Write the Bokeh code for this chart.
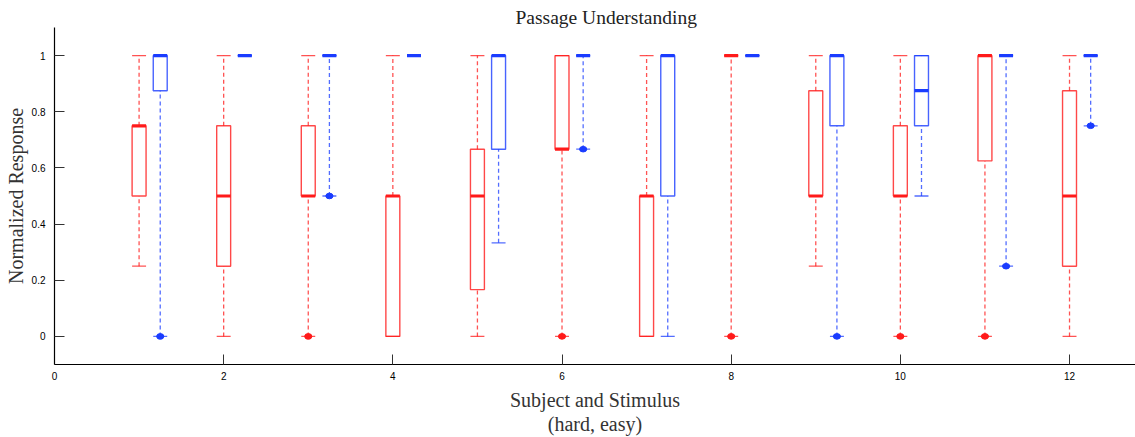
import math
from bokeh.plotting import figure
from bokeh.models import ColumnDataSource, Range1d, FixedTicker
from bokeh.embed import file_html
from bokeh.resources import INLINE

# ---- data ----
subjects = [1, 2, 3, 4, 5, 6, 7, 8, 9, 10, 11, 12]

hard_lo  = [0.25, 0, 0, 0, 0, 0, 0, 0, 0.25, 0, 0, 0]
hard_q1  = [0.5, 0.25, 0.5, 0, 0.1667, 0.6667, 0, 1, 0.5, 0.5, 0.625, 0.25]
hard_med = [0.75, 0.5, 0.5, 0.5, 0.5, 0.6667, 0.5, 1, 0.5, 0.5, 1, 0.5]
hard_q3  = [0.75, 0.75, 0.75, 0.5, 0.6667, 1, 0.5, 1, 0.875, 0.75, 1, 0.875]
hard_hi  = [1, 1, 1, 1, 1, 1, 1, 1, 1, 1, 1, 1]
hard_out = [None, None, 0, None, None, 0, None, 0, None, 0, 0, None]

easy_lo  = [0, 1, 0.5, 1, 0.3333, 0.6667, 0, 1, 0, 0.5, 0.25, 0.75]
easy_q1  = [0.875, 1, 1, 1, 0.6667, 1, 0.5, 1, 0.75, 0.75, 1, 1]
easy_med = [1, 1, 1, 1, 1, 1, 1, 1, 1, 0.875, 1, 1]
easy_q3  = [1, 1, 1, 1, 1, 1, 1, 1, 1, 1, 1, 1]
easy_hi  = [1, 1, 1, 1, 1, 1, 1, 1, 1, 1, 1, 1]
easy_out = [0, None, 0.5, None, None, 0.6667, None, None, 0, None, 0.25, 0.75]

x_ticks = [0, 2, 4, 6, 8, 10, 12]
y_ticks = [0, 0.2, 0.4, 0.6, 0.8, 1]
y_tick_labels = ["0", "0.2", "0.4", "0.6", "0.8", "1"]

RED = "#ff1a1a"
BLUE = "#1a3cff"
BOX_W = 0.165
OFFSET_EASY = 0.25

p = figure(width=1135, height=437, output_backend="svg", toolbar_location=None,
           x_range=Range1d(0, 12.78), y_range=Range1d(-0.1, 1.1),
           min_border_left=54, min_border_right=0, min_border_top=27, min_border_bottom=73,
           title="Passage Understanding")

p.title.align = "left"
p.title.offset = 461
p.title.standoff = 0
p.title.text_font = "Liberation Serif"
p.title.text_font_size = "19.5px"
p.title.text_font_style = "normal"
p.title.text_color = "#222222"

p.grid.visible = False
p.outline_line_color = None
p.background_fill_color = "white"
p.border_fill_color = "white"


def draw(xs, lo, q1, med, q3, hi, out, color):
    left = [x - BOX_W / 2 for x in xs]
    right = [x + BOX_W / 2 for x in xs]
    src = ColumnDataSource(dict(x=xs, left=left, right=right, lo=lo, q1=q1,
                                med=med, q3=q3, hi=hi))
    # whiskers
    p.segment(x0="x", y0="lo", x1="x", y1="q1", source=src, line_color=color,
              line_alpha=0.75, line_width=1.3, line_dash="4 3")
    p.segment(x0="x", y0="q3", x1="x", y1="hi", source=src, line_color=color,
              line_alpha=0.75, line_width=1.3, line_dash="4 3")
    # caps
    p.segment(x0="left", y0="lo", x1="right", y1="lo", source=src, line_color=color,
              line_alpha=0.75, line_width=1.3)
    p.segment(x0="left", y0="hi", x1="right", y1="hi", source=src, line_color=color,
              line_alpha=0.75, line_width=1.3)
    # boxes
    p.quad(left="left", right="right", bottom="q1", top="q3", source=src,
           fill_color=None, line_color=color, line_alpha=0.8, line_width=1.4)
    # medians
    p.segment(x0="left", y0="med", x1="right", y1="med", source=src,
              line_color=color, line_width=3.2)
    # outliers
    ox = [x for x, o in zip(xs, out) if o is not None]
    oy = [o for o in out if o is not None]
    osrc = ColumnDataSource(dict(x=ox, y=oy))
    p.ellipse(x="x", y="y", source=osrc, width=0.085, height=0.02,
              fill_color=color, line_color=color)


draw([s for s in subjects], hard_lo, hard_q1, hard_med, hard_q3, hard_hi, hard_out, RED)
draw([s + OFFSET_EASY for s in subjects], easy_lo, easy_q1, easy_med, easy_q3, easy_hi, easy_out, BLUE)

# axes
for ax in (p.xaxis[0], p.yaxis[0]):
    ax.major_tick_in = 10
    ax.major_tick_out = 0
    ax.minor_tick_line_color = None
    ax.axis_line_color = "black"
    ax.axis_line_width = 1.2
    ax.major_tick_line_color = "#333333"
    ax.major_label_text_font = "Liberation Sans"
    ax.major_label_text_font_size = "10px"
    ax.major_label_text_color = "black"
    ax.axis_label_text_font = "Liberation Serif"
    ax.axis_label_text_font_size = "20px"
    ax.axis_label_text_font_style = "normal"
    ax.axis_label_text_color = "#333333"

p.xaxis.ticker = FixedTicker(ticks=x_ticks)
p.yaxis.ticker = FixedTicker(ticks=y_ticks)
p.yaxis.major_label_overrides = {t: l for t, l in zip(y_ticks, y_tick_labels)}
p.xaxis.major_label_standoff = 7
p.yaxis.major_label_standoff = 9
p.xaxis.axis_label = "Subject and Stimulus\n(hard, easy)"
p.xaxis.axis_label_text_line_height = 1.1
p.yaxis.axis_label = "Normalized Response"
p.xaxis.axis_label_standoff = 6
p.yaxis.axis_label_standoff = 2

open("out.html", "w").write(file_html(p, INLINE))
